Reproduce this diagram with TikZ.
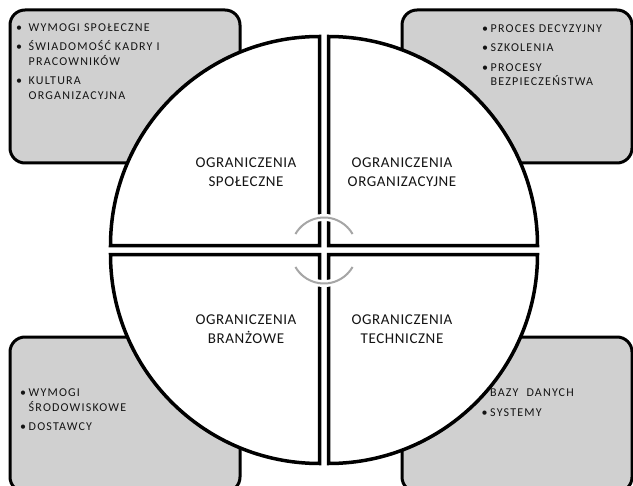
\documentclass[tikz,border=0pt]{standalone}
\usepackage{fontspec}
\setmainfont{Carlito}
\newfontfamily\listfont[LetterSpace=10]{Carlito}
\newfontfamily\labelfont[LetterSpace=4]{Carlito}
\definecolor{panelgray}{HTML}{D0D0D0}
\definecolor{cyclegray}{HTML}{A6A6A6}
\definecolor{inkgray}{HTML}{141414}
\newlength\bulw
% one bulleted entry, and a continuation line set under its text
\newcommand\bitem[1]{\par\noindent\makebox[\bulw][l]{\textbullet}#1}
\newcommand\cont{\newline\hspace*{\bulw}}
\begin{document}
\begin{tikzpicture}[x=1bp,y=-1bp,
  panel/.style={draw=black, line width=3bp, fill=panelgray, rounded corners=15bp},
  quarter/.style={draw=black, line width=3.5bp, fill=white, line join=miter},
  cyclearc/.style={draw=cyclegray, line width=2bp},
  arcgap/.style={draw=white, line width=7bp},
  lbl/.style={align=center, inner sep=0, text=inkgray,
    font=\labelfont\fontsize{15bp}{19bp}\selectfont},
  blist/.style={anchor=base west, inner sep=0, text width=200bp, text=inkgray,
    font=\listfont\fontsize{12bp}{14.5bp}\selectfont\setlength\parskip{5bp}\raggedright},
]
\clip (0,0) rectangle (633,486);

% grey panels behind the disc
\path[panel] (10,10) rectangle (240,163);
\path[panel] (402,10) rectangle (632,163);
\path[panel] (10,337) rectangle (240,492);
\path[panel] (402,337) rectangle (632,492);

% panel texts
\node[blist] (listSoc) at (16,12) {\setlength\bulw{12.5bp}%
  \bitem{WYMOGI SPOŁECZNE}
  \bitem{ŚWIADOMOŚĆ KADRY I\cont PRACOWNIKÓW}
  \bitem{KULTURA\cont ORGANIZACYJNA}};
\node[blist] (listOrg) at (482,13) {\setlength\bulw{8.5bp}%
  \bitem{PROCES DECYZYJNY}
  \bitem{SZKOLENIA}
  \bitem{PROCESY\cont BEZPIECZEŃSTWA}};
\node[blist] (listBra) at (20,377) {\setlength\bulw{8.5bp}%
  \bitem{WYMOGI\cont ŚRODOWISKOWE}
  \bitem{DOSTAWCY}};
\node[blist] (listTech) at (481.5,377) {\setlength\bulw{8.5bp}%
  \bitem{BAZY\ \ DANYCH}
  \bitem{SYSTEMY}};

% the four quarter discs
\path[quarter] (319.5,245.5) -- (110.5,245.5) arc[start angle=180, end angle=270, radius=209] -- cycle;
\path[quarter] (328.5,245.5) -- (328.5,36.5) arc[start angle=270, end angle=360, radius=209] -- cycle;
\path[quarter] (319.5,254.5) -- (110.5,254.5) arc[start angle=180, end angle=90, radius=209] -- cycle;
\path[quarter] (328.5,254.5) -- (537.5,254.5) arc[start angle=0, end angle=90, radius=209] -- cycle;

% central cycle arcs
\coordinate (hub) at (324,250.5);
\draw[arcgap] (hub) ++(210:33) arc[start angle=210, end angle=330, radius=33];
\draw[arcgap] (hub) ++(150:33) arc[start angle=150, end angle=30, radius=33];
\draw[cyclearc] (hub) ++(210:33) arc[start angle=210, end angle=330, radius=33];
\draw[cyclearc] (hub) ++(150:33) arc[start angle=150, end angle=30, radius=33];

% quarter labels
\node[lbl] (lblSoc) at (246,172.5) {OGRANICZENIA\\SPOŁECZNE};
\node[lbl] (lblOrg) at (402,172.5) {OGRANICZENIA\\ORGANIZACYJNE};
\node[lbl] (lblBra) at (246,329.5) {OGRANICZENIA\\BRANŻOWE};
\node[lbl] (lblTech) at (402,329.5) {OGRANICZENIA\\TECHNICZNE};
\end{tikzpicture}
\end{document}
